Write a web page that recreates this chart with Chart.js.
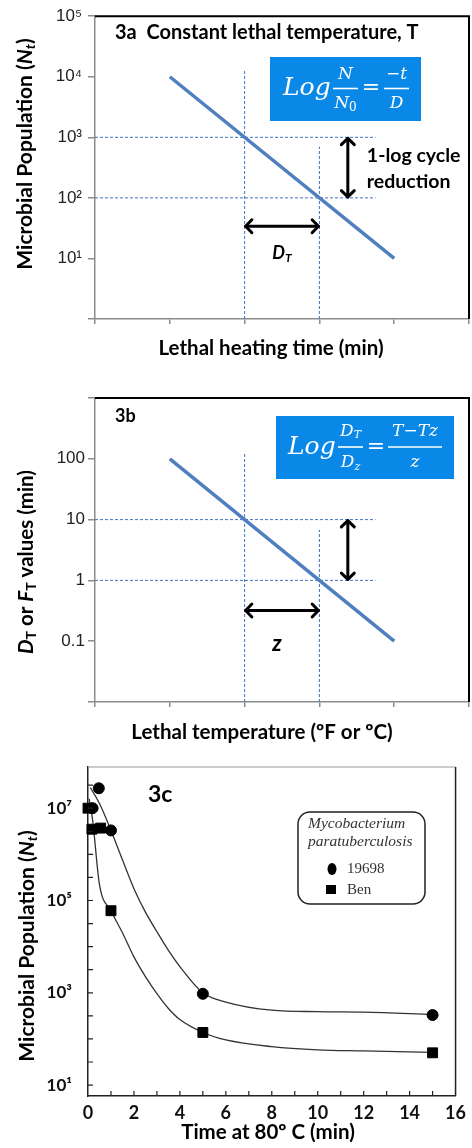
<!DOCTYPE html>
<html lang="en">
<head>
<meta charset="UTF-8">
<title>Thermal death time curves 3a-3c</title>
<script src="https://cdn.jsdelivr.net/npm/chart.js@4.4.0/dist/chart.umd.min.js"></script>
<style>
    body { margin: 0; background: #fff; }
    .panel { position: absolute; left: 0; }
    #boxA { top: 0; }
    #boxB { top: 360px; }
    #boxC { top: 740px; }
</style>
</head>
<body>
<div class="panel" id="boxA"><canvas id="chartA" width="472" height="360"></canvas></div>
<div class="panel" id="boxB"><canvas id="chartB" width="472" height="400"></canvas></div>
<div class="panel" id="boxC"><canvas id="chartC" width="472" height="408"></canvas></div>

<script>
// ---- 3a: survivors vs heating time (log scale) ----
const timeA = [1, 4];
const popA = [1e4, 10];
const guideXA = [2, 3];            // dashed verticals
const guideTopA = [1.35e4, 700];   // where they stop
const guideYA = [1e3, 1e2];        // dashed horizontals
const guideEndA = 3.75;
const yTicksA = [1, 10, 100, 1e3, 1e4, 1e5];
const yLabelsA = ['', '10¹', '10²', '10³', '10⁴', '10⁵'];
const vArrowA = [3.38, 1e3, 1e2];  // x, from, to
const hArrowA = [34, 2, 3];        // y, from, to

// ---- 3b: D value vs temperature ----
const tempB = [1, 4];
const dValB = [100, 0.1];
const guideXB = [2, 3];
const guideTopB = [130, 6.8];
const guideYB = [10, 1];
const guideEndB = 3.75;
const yTicksB = [0.01, 0.1, 1, 10, 100, 1000];
const yLabelsB = ['', '0.1', '1', '10', '100', ''];
const vArrowB = [3.38, 10, 1];
const hArrowB = [0.32, 2, 3];

// ---- 3c: M. paratuberculosis at 80 C ----
const t19698 = [0.2, 0.47, 1, 5, 15];
const n19698 = [1e7, 2.7e7, 3.3e6, 950, 330];
const tBen = [0, 0.17, 0.55, 1, 5, 15];
const nBen = [1e7, 3.5e6, 3.7e6, 6e4, 138, 50];
const fitT19698 = [0.1, 0.5, 1, 1.5, 2, 2.5, 3, 3.5, 4, 5, 6, 8, 10, 12, 15];
const fitN19698 = [2.8e7, 1.26e7, 3.3e6, 7.6e5, 1.8e5, 5.6e4, 2.1e4, 8.3e3, 3.7e3, 1e3, 630, 420, 390, 380, 340];
const fitTBen = [0.05, 0.2, 0.5, 1, 1.5, 2, 2.5, 3, 3.5, 4, 5, 6, 8, 10, 12, 15];
const fitNBen = [1.6e7, 5.6e6, 2.2e5, 6e4, 2e4, 6e3, 2.24e3, 955, 457, 263, 138, 95, 68, 58, 55, 51];
const xTicksC = [0, 2, 4, 6, 8, 10, 12, 14, 16];
const yTicksC = [10, 1e3, 1e5, 1e7];
const yLabelsC = ['10¹', '10³', '10⁵', '10⁷'];

const LINE_BLUE = '#4f7fbe';
const GUIDE_BLUE = '#3f74c2';
const BOX_BLUE = '#0a88e8';
const SANS = 'Lato';
const SERIF = '"DejaVu Serif"';

Chart.defaults.font.family = 'Liberation Sans';
Chart.defaults.color = '#222';

const pts = (xs, ys) => xs.map((x, i) => ({x: x, y: ys[i]}));

function guides(gx, gTop, gy, gEnd, yMin) {
    const out = [];
    gx.forEach((x, i) => out.push({data: [{x: x, y: yMin}, {x: x, y: gTop[i]}]}));
    gy.forEach(y => out.push({data: [{x: 0, y: y}, {x: gEnd, y: y}]}));
    return out.map(d => Object.assign(d, {
        showLine: true, borderColor: GUIDE_BLUE, borderWidth: 1,
        borderDash: [3, 2], pointRadius: 0
    }));
}

function arrow(ctx, x1, y1, x2, y2) {
    const a = Math.atan2(y2 - y1, x2 - x1), h = 9, w = 0.8;
    ctx.save();
    ctx.strokeStyle = '#000';
    ctx.lineWidth = 3;
    ctx.lineCap = 'round';
    ctx.lineJoin = 'round';
    ctx.beginPath(); ctx.moveTo(x1, y1); ctx.lineTo(x2, y2); ctx.stroke();
    [[x1, y1, a + Math.PI], [x2, y2, a]].forEach(([x, y, d]) => {
        ctx.beginPath();
        ctx.moveTo(x - h * Math.cos(d - w), y - h * Math.sin(d - w));
        ctx.lineTo(x, y);
        ctx.lineTo(x - h * Math.cos(d + w), y - h * Math.sin(d + w));
        ctx.stroke();
    });
    ctx.restore();
}

// parts: [text, font, dy]
function rich(ctx, parts, x, y, angle, align) {
    ctx.save();
    ctx.translate(x, y);
    ctx.rotate(angle || 0);
    ctx.textBaseline = 'middle';
    ctx.textAlign = 'left';
    let w = 0;
    parts.forEach(p => { ctx.font = p[1]; w += ctx.measureText(p[0]).width; });
    let cx = align === 'left' ? 0 : -w / 2;
    parts.forEach(p => {
        ctx.font = p[1];
        ctx.fillText(p[0], cx, p[2] || 0);
        cx += ctx.measureText(p[0]).width;
    });
    ctx.restore();
}

function formula(ctx, box, f) {
    ctx.save();
    ctx.fillStyle = BOX_BLUE;
    ctx.fillRect(box[0], box[1], box[2], box[3]);
    ctx.fillStyle = '#fff';
    ctx.strokeStyle = '#fff';
    ctx.textBaseline = 'middle';
    ctx.textAlign = 'left';
    ctx.font = 'italic 25px ' + SERIF;
    ctx.fillText('Log', f.logX, f.barY);
    f.fracs.forEach(fr => {
        rich(ctx, fr.num, fr.cx, f.numY);
        rich(ctx, fr.den, fr.cx, f.denY);
        ctx.lineWidth = 1.6;
        ctx.beginPath();
        ctx.moveTo(fr.cx - fr.w / 2, f.barY);
        ctx.lineTo(fr.cx + fr.w / 2, f.barY);
        ctx.stroke();
    });
    ctx.font = '22px ' + SERIF;
    ctx.textAlign = 'center';
    ctx.fillText('=', f.eqX, f.barY);
    ctx.restore();
}

function frameTopRight(ctx, a, color, width) {
    ctx.save();
    ctx.strokeStyle = color;
    ctx.lineWidth = width;
    ctx.beginPath();
    ctx.moveTo(a.left, a.top);
    ctx.lineTo(a.right, a.top);
    ctx.lineTo(a.right, a.bottom);
    ctx.stroke();
    ctx.restore();
}

function textAt(ctx, s, font, x, y, align) {
    ctx.save();
    ctx.font = font;
    ctx.fillStyle = '#000';
    ctx.textBaseline = 'middle';
    ctx.textAlign = align || 'left';
    ctx.fillText(s, x, y);
    ctx.restore();
}

const it17 = 'italic 17px ' + SERIF;
const it11 = 'italic 11px ' + SERIF;

// shared axes for the two schematic panels
function schematicScales(yMin, yMax, yTicks, yLabels, yWidth, xHeight, pad) {
    return {
        x: {
            type: 'linear', min: 0, max: 5,
            ticks: { stepSize: 1, callback: () => '' },
            grid: { drawOnChartArea: false, drawTicks: true, tickLength: 5, color: '#8c8c8c', lineWidth: 1.5 },
            border: { color: '#8c8c8c', width: 1.5 },
            afterFit: s => { s.height = xHeight; }
        },
        y: {
            type: 'logarithmic', min: yMin, max: yMax,
            afterBuildTicks: s => { s.ticks = yTicks.map(v => ({value: v})); },
            ticks: {
                padding: pad,
                font: { size: 17 },
                color: '#222',
                callback: (v) => yLabels[yTicks.indexOf(v)] ?? ''
            },
            grid: { drawOnChartArea: false, drawTicks: true, tickLength: 7, color: '#8c8c8c', lineWidth: 1.5 },
            border: { color: '#8c8c8c', width: 1.5 },
            afterFit: s => { s.width = yWidth; }
        }
    };
}

const baseOpts = {
    responsive: false,
    animation: false,
    events: [],
    plugins: { legend: { display: false }, tooltip: { enabled: false } }
};

// ---------------- 3a ----------------
new Chart(document.getElementById('chartA'), {
    type: 'scatter',
    data: {
        datasets: [
            { data: pts(timeA, popA), showLine: true, borderColor: LINE_BLUE, borderWidth: 3.5, pointRadius: 0 }
        ].concat(guides(guideXA, guideTopA, guideYA, guideEndA, 1))
    },
    options: Object.assign({}, baseOpts, {
        layout: { padding: { top: 15, right: 1, left: 0, bottom: 0 } },
        scales: schematicScales(1, 1e5, yTicksA, yLabelsA, 95, 41, 6)
    }),
    plugins: [{
        id: 'notesA',
        afterDraw(chart) {
            const ctx = chart.ctx, a = chart.chartArea;
            const X = v => chart.scales.x.getPixelForValue(v);
            const Y = v => chart.scales.y.getPixelForValue(v);
            frameTopRight(ctx, a, '#000', 2);
            textAt(ctx, '3a  Constant lethal temperature, T', 'bold 20px ' + SANS, 115, 33);
            formula(ctx, [270, 57, 151, 64], {
                logX: 283, barY: 88.5, numY: 75, denY: 104, eqX: 371,
                fracs: [
                    { cx: 345.5, w: 25, num: [['N', it17]], den: [['N', it17], ['0', '12px ' + SERIF, 4]] },
                    { cx: 396.5, w: 25, num: [['−t', it17]], den: [['D', it17]] }
                ]
            });
            const vx = X(vArrowA[0]);
            arrow(ctx, vx, Y(vArrowA[1]) + 1, vx, Y(vArrowA[2]) - 1);
            const mid = (Y(vArrowA[1]) + Y(vArrowA[2])) / 2;
            textAt(ctx, '1-log cycle', 'bold 19.5px ' + SANS, vx + 19, mid - 12);
            textAt(ctx, 'reduction', 'bold 19.5px ' + SANS, vx + 19, mid + 14);
            const hy = Y(hArrowA[0]);
            arrow(ctx, X(hArrowA[1]) + 1, hy, X(hArrowA[2]) - 1, hy);
            ctx.fillStyle = '#000';
            rich(ctx, [['D', 'italic bold 18px ' + SANS], ['T', 'italic bold 12px ' + SANS, 5]],
                (X(hArrowA[1]) + X(hArrowA[2])) / 2, hy + 27);
            rich(ctx, [['Microbial Population (', 'bold 21px ' + SANS], ['N', 'italic bold 21px ' + SANS],
                ['t', 'italic bold 14px ' + SANS, 5], [')', 'bold 21px ' + SANS]], 25, 154, -Math.PI / 2);
            textAt(ctx, 'Lethal heating time (min)', 'bold 20.5px ' + SANS, 271, 348, 'center');
        }
    }]
});

// ---------------- 3b ----------------
new Chart(document.getElementById('chartB'), {
    type: 'scatter',
    data: {
        datasets: [
            { data: pts(tempB, dValB), showLine: true, borderColor: LINE_BLUE, borderWidth: 3.5, pointRadius: 0 }
        ].concat(guides(guideXB, guideTopB, guideYB, guideEndB, 0.01))
    },
    options: Object.assign({}, baseOpts, {
        layout: { padding: { top: 38, right: 1, left: 0, bottom: 0 } },
        scales: schematicScales(0.01, 1000, yTicksB, yLabelsB, 95, 58, 3)
    }),
    plugins: [{
        id: 'notesB',
        afterDraw(chart) {
            const ctx = chart.ctx, a = chart.chartArea;
            const X = v => chart.scales.x.getPixelForValue(v);
            const Y = v => chart.scales.y.getPixelForValue(v);
            frameTopRight(ctx, a, '#000', 2);
            textAt(ctx, '3b', 'bold 18px ' + SANS, 115, 56);
            formula(ctx, [276, 56, 178, 63], {
                logX: 288, barY: 87, numY: 72, denY: 103, eqX: 376,
                fracs: [
                    { cx: 350.5, w: 25, num: [['D', it17], ['T', it11, 3]], den: [['D', it17], ['z', it11, 4]] },
                    { cx: 415, w: 54, num: [['T−Tz', it17]], den: [['z', it17]] }
                ]
            });
            const vx = X(vArrowB[0]);
            arrow(ctx, vx, Y(vArrowB[1]) + 1, vx, Y(vArrowB[2]) - 1);
            const hy = Y(hArrowB[0]);
            arrow(ctx, X(hArrowB[1]) + 1, hy, X(hArrowB[2]) - 1, hy);
            textAt(ctx, 'z', 'italic bold 22px ' + SANS, (X(hArrowB[1]) + X(hArrowB[2])) / 2 - 5, hy + 33, 'center');
            ctx.fillStyle = '#000';
            rich(ctx, [['D', 'italic bold 20.5px ' + SANS], ['T', 'bold 14px ' + SANS, 5],
                [' or ', 'bold 20.5px ' + SANS], ['F', 'italic bold 20.5px ' + SANS], ['T', 'bold 14px ' + SANS, 5],
                [' values (min)', 'bold 20.5px ' + SANS]], 26, 202, -Math.PI / 2);
            textAt(ctx, 'Lethal temperature (ºF or ºC)', 'bold 20.5px ' + SANS, 262, 372, 'center');
        }
    }]
});

// ---------------- 3c ----------------
new Chart(document.getElementById('chartC'), {
    type: 'scatter',
    data: {
        datasets: [
            { data: pts(t19698, n19698), pointStyle: 'circle', pointRadius: 5.5, backgroundColor: '#000', borderColor: '#000', clip: false },
            { data: pts(tBen, nBen), pointStyle: 'rect', pointRadius: 7, backgroundColor: '#000', borderColor: '#000', clip: false },
            { data: pts(fitT19698, fitN19698), showLine: true, cubicInterpolationMode: 'monotone', borderColor: '#333', borderWidth: 1.3, pointRadius: 0 },
            { data: pts(fitTBen, fitNBen), showLine: true, cubicInterpolationMode: 'monotone', borderColor: '#333', borderWidth: 1.3, pointRadius: 0 }
        ]
    },
    options: Object.assign({}, baseOpts, {
        layout: { padding: { top: 27, right: 12, left: 0, bottom: 0 } },
        scales: {
            x: {
                type: 'linear', min: 0, max: 16,
                afterBuildTicks: s => { s.ticks = xTicksC.map(v => ({value: v})); },
                ticks: { padding: 6, font: { family: SANS, size: 18, weight: 'bold' }, color: '#111' },
                grid: { drawOnChartArea: false, drawTicks: false },
                border: { color: '#222', width: 1.5 },
                afterFit: s => { s.height = 52; }
            },
            y: {
                type: 'logarithmic', min: 5.8, max: 7.8e7,
                afterBuildTicks: s => { s.ticks = yTicksC.map(v => ({value: v})); },
                ticks: {
                    padding: 16,
                    font: { family: SANS, size: 17, weight: 'bold' },
                    color: '#111',
                    callback: (v) => yLabelsC[yTicksC.indexOf(v)] ?? ''
                },
                grid: { drawOnChartArea: false, drawTicks: false },
                border: { color: '#222', width: 1.5 },
                afterFit: s => { s.width = 88; }
            }
        }
    }),
    plugins: [{
        id: 'notesC',
        afterDraw(chart) {
            const ctx = chart.ctx, a = chart.chartArea;
            const X = v => chart.scales.x.getPixelForValue(v);
            const Y = v => chart.scales.y.getPixelForValue(v);
            ctx.save();
            ctx.strokeStyle = '#999';
            ctx.lineWidth = 1;
            ctx.beginPath(); ctx.moveTo(a.left, a.top); ctx.lineTo(a.right, a.top); ctx.stroke();
            ctx.strokeStyle = '#222';
            ctx.lineWidth = 1.5;
            ctx.beginPath(); ctx.moveTo(a.right, a.top); ctx.lineTo(a.right, a.bottom); ctx.stroke();
            // inward tick marks
            ctx.lineWidth = 1.2;
            ctx.beginPath();
            for (let t = 1; t < 16; t++) {
                ctx.moveTo(X(t), a.bottom); ctx.lineTo(X(t), a.bottom - 5);
            }
            for (let e = 1; e <= 7.5; e += 0.5) {
                const y = Y(Math.pow(10, e));
                ctx.moveTo(a.left, y); ctx.lineTo(a.left + 5, y);
            }
            ctx.stroke();
            ctx.restore();

            textAt(ctx, '3c', 'bold 23px ' + SANS, 148, 55);

            // legend box
            ctx.save();
            ctx.strokeStyle = '#222';
            ctx.lineWidth = 1.5;
            ctx.beginPath();
            ctx.roundRect(298, 72, 127, 92, 12);
            ctx.stroke();
            ctx.fillStyle = '#333';
            ctx.textBaseline = 'middle';
            ctx.font = 'italic 15.5px "Liberation Serif"';
            ctx.fillText('Mycobacterium', 308, 84);
            ctx.fillText('paratuberculosis', 308, 102);
            ctx.font = '15px "Liberation Serif"';
            ctx.fillText('19698', 347, 129);
            ctx.fillText('Ben', 347, 150);
            ctx.fillStyle = '#000';
            ctx.beginPath();
            ctx.ellipse(332, 129, 4.5, 6, 0, 0, Math.PI * 2);
            ctx.fill();
            ctx.fillRect(326, 145, 10, 9);
            ctx.restore();

            ctx.fillStyle = '#000';
            rich(ctx, [['Microbial Population (', 'bold 21px ' + SANS], ['N', 'italic bold 21px ' + SANS],
                ['t', 'italic bold 14px ' + SANS, 5], [')', 'bold 21px ' + SANS]], 27, 206, -Math.PI / 2);
            textAt(ctx, 'Time at 80º C (min)', 'bold 20.5px ' + SANS, 268, 392, 'center');
        }
    }]
});
</script>
</body>
</html>
